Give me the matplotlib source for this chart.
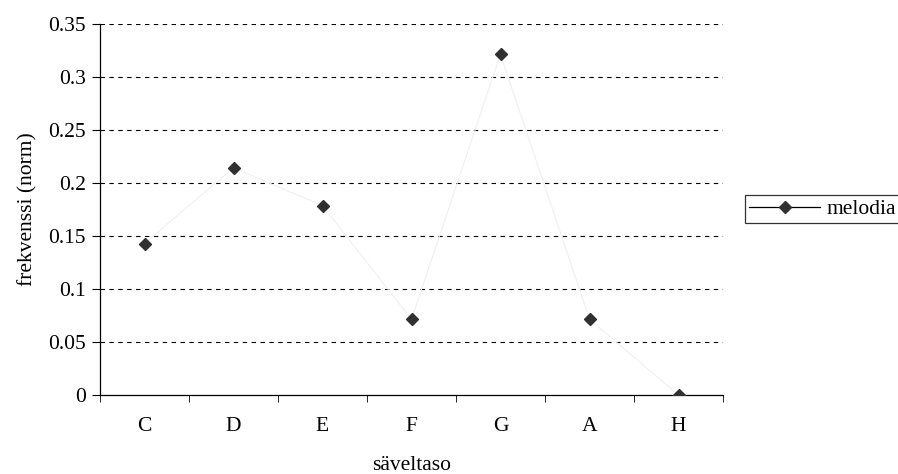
import numpy as np
import matplotlib.pyplot as plt
from matplotlib.lines import Line2D

notes = ["C", "D", "E", "F", "G", "A", "H"]
freq = [0.1429, 0.2143, 0.1786, 0.0714, 0.3214, 0.0714, 0.0]
yticks = [0, 0.05, 0.1, 0.15, 0.2, 0.25, 0.3, 0.35]
ytick_labels = ["0", "0.05", "0.1", "0.15", "0.2", "0.25", "0.3", "0.35"]

plt.rcParams["font.family"] = ["Liberation Serif", "DejaVu Serif"]
FS = 15.5

fig = plt.figure(figsize=(8.98, 4.74), dpi=100)
ax = fig.add_axes([100 / 898, 79 / 474, 623 / 898, 371 / 474])

x = np.arange(len(notes))
ax.plot(x, freq, color="#f0f0f0", lw=0.8, zorder=2)
ax.plot(x, freq, ls="none", marker="D", ms=6, color="#303030", zorder=3)

ax.set_xlim(-0.5, len(notes) - 0.5)
ax.set_ylim(0, 0.35)
ax.set_yticks(yticks)
ax.set_yticklabels(ytick_labels)
ax.set_xticks(x)
ax.set_xticklabels(notes)
ax.set_xticks(np.arange(len(notes) + 1) - 0.5, minor=True)
ax.tick_params(axis="x", which="major", length=0, pad=16, labelsize=FS)
ax.tick_params(axis="x", which="minor", length=5, direction="out")
ax.tick_params(axis="y", length=6, direction="out", labelsize=FS, pad=4)

for y in yticks[1:]:
    ax.axhline(y, color="black", lw=0.8, ls=(0, (4, 4)), zorder=1)

for s in ["top", "right"]:
    ax.spines[s].set_visible(False)
ax.spines["left"].set_linewidth(0.9)
ax.spines["bottom"].set_linewidth(0.9)

ax.set_xlabel("säveltaso", fontsize=FS, labelpad=14)
ax.set_ylabel("frekvenssi (norm)", fontsize=FS, labelpad=8)

handle = Line2D([], [], color="black", lw=0.9, marker="D", ms=6, mfc="#303030", mec="#303030")
leg = fig.legend([handle], ["melodia"], loc="center left", bbox_to_anchor=(745 / 898, 265 / 474),
                 fontsize=FS, frameon=True, fancybox=False, edgecolor="black",
                 handlelength=3.3, borderpad=0.2, handletextpad=0.3, borderaxespad=0)
leg.get_frame().set_linewidth(0.9)

fig.savefig("out.png", dpi=100)
